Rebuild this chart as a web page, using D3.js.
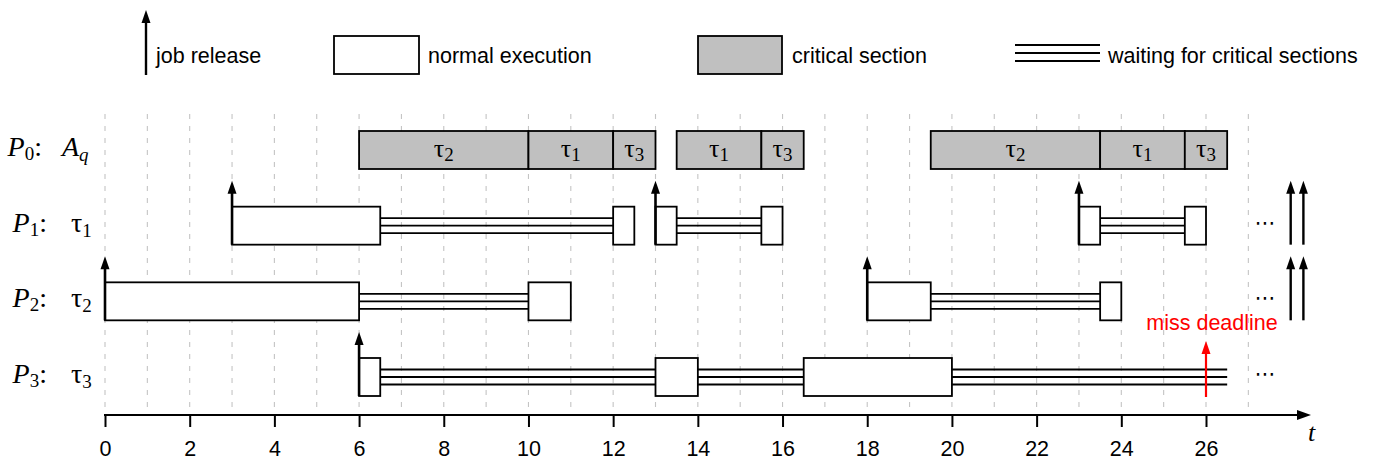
<!DOCTYPE html>
<html>
<head>
<meta charset="utf-8">
<script src="https://cdn.jsdelivr.net/npm/d3@7"></script>
<style>
  html, body { margin: 0; padding: 0; background: #fff; }
  .sans { font-family: "Liberation Sans", Arial, sans-serif; }
  .serif { font-family: "Liberation Serif", "Times New Roman", serif; }
</style>
</head>
<body>
<div id="chart"></div>
<script>
// time axis
var tickValues = d3.range(0, 27, 2);
var gridTimes = d3.range(0, 28);
var missDeadline = 26;

// rows: processor label + what runs on it
var procIds = ["0", "1", "2", "3"];
var rowMain = ["A", "τ", "τ", "τ"];
var rowSub = ["q", "1", "2", "3"];

// P0 critical sections (task, start, end)
var csTask = [2, 1, 3, 1, 3, 2, 1, 3];
var csStart = [6, 10, 12, 13.5, 15.5, 19.5, 23.5, 25.5];
var csEnd = [10, 12, 13, 15.5, 16.5, 23.5, 25.5, 26.5];

// normal execution (row, start, end)
var execRow = [1, 1, 1, 1, 1, 1, 2, 2, 2, 2, 3, 3, 3];
var execStart = [3, 12, 13, 15.5, 23, 25.5, 0, 10, 18, 23.5, 6, 13, 16.5];
var execEnd = [6.5, 12.5, 13.5, 16, 23.5, 26, 6, 11, 19.5, 24, 6.5, 14, 20];

// waiting for critical sections (row, start, end)
var waitRow = [1, 1, 1, 2, 2, 3, 3, 3];
var waitStart = [6.5, 13.5, 23.5, 6, 19.5, 6.5, 14, 20];
var waitEnd = [12, 15.5, 25.5, 10, 23.5, 13, 16.5, 26.5];

// job releases (row, time)
var relRow = [1, 1, 1, 2, 2, 3];
var relTime = [3, 13, 23, 0, 18, 6];
// releases after the shown window
var laterRow = [1, 1, 2, 2];
var laterTime = [28, 28.3, 28, 28.3];
var dotsTime = 27.4;

var W = 1376, H = 462;
var svg = d3.select("#chart").append("svg").attr("width", W).attr("height", H);

var x = d3.scaleLinear().domain([0, 26]).range([105, 1206]);
var y = d3.scaleLinear().domain([0, 3]).range([150, 377]);
var half = 19;
var axisY = 415;

function arrowHead(g, cx, tipY, color) {
  g.append("path")
    .attr("d", "M" + cx + "," + tipY + " L" + (cx - 4.5) + "," + (tipY + 13) + " L" + (cx + 4.5) + "," + (tipY + 13) + " Z")
    .attr("fill", color);
}
function upArrow(g, cx, y0, tipY, color, w) {
  g.append("line").attr("x1", cx).attr("x2", cx).attr("y1", y0).attr("y2", tipY + 8)
    .attr("stroke", color).attr("stroke-width", w);
  arrowHead(g, cx, tipY, color);
}

// grid
svg.append("g").selectAll("line").data(gridTimes).enter().append("line")
  .attr("x1", function(d) { return x(d); })
  .attr("x2", function(d) { return x(d); })
  .attr("y1", 114).attr("y2", 411)
  .attr("stroke", "#c4c4c4").attr("stroke-width", 1.1)
  .attr("stroke-dasharray", "5,7");

// axis
var axis = d3.axisBottom(x).tickValues(tickValues).tickSize(12).tickPadding(14).tickFormat(d3.format("d"));
var ag = svg.append("g").attr("transform", "translate(0," + axisY + ")").call(axis);
ag.select(".domain").remove();
ag.selectAll(".tick line").attr("stroke", "#000").attr("stroke-width", 2);
ag.selectAll(".tick text").attr("class", "sans").style("font-size", "21.5px").attr("fill", "#000");
svg.append("line").attr("x1", x(0) - 1).attr("x2", 1300).attr("y1", axisY).attr("y2", axisY)
  .attr("stroke", "#000").attr("stroke-width", 2);
svg.append("path").attr("d", "M1311," + axisY + " L1297," + (axisY - 5) + " L1297," + (axisY + 5) + " Z").attr("fill", "#000");
svg.append("text").attr("class", "serif").attr("x", 1308).attr("y", 441)
  .style("font-size", "26px").style("font-style", "italic").text("t");

// waiting lines
var waits = d3.range(waitRow.length).map(function(i) { return {row: waitRow[i], s: waitStart[i], e: waitEnd[i]}; });
var wg = svg.append("g");
[-7.5, 0, 7.5].forEach(function(off) {
  wg.selectAll(null).data(waits).enter().append("line")
    .attr("x1", function(d) { return x(d.s); })
    .attr("x2", function(d) { return x(d.e); })
    .attr("y1", function(d) { return y(d.row) + off; })
    .attr("y2", function(d) { return y(d.row) + off; })
    .attr("stroke", "#000").attr("stroke-width", 1.8);
});

// normal execution boxes
var execs = d3.range(execRow.length).map(function(i) { return {row: execRow[i], s: execStart[i], e: execEnd[i]}; });
svg.append("g").selectAll("rect").data(execs).enter().append("rect")
  .attr("x", function(d) { return x(d.s); })
  .attr("width", function(d) { return x(d.e) - x(d.s); })
  .attr("y", function(d) { return y(d.row) - half; })
  .attr("height", half * 2)
  .attr("fill", "#fff").attr("stroke", "#000").attr("stroke-width", 1.8);

// critical sections on P0
var cs = d3.range(csTask.length).map(function(i) { return {task: csTask[i], s: csStart[i], e: csEnd[i]}; });
var cg = svg.append("g");
cg.selectAll("rect").data(cs).enter().append("rect")
  .attr("x", function(d) { return x(d.s); })
  .attr("width", function(d) { return x(d.e) - x(d.s); })
  .attr("y", y(0) - half).attr("height", half * 2)
  .attr("fill", "#c0c0c0").attr("stroke", "#000").attr("stroke-width", 1.8);
var ct = cg.selectAll("text").data(cs).enter().append("text")
  .attr("class", "serif")
  .attr("x", function(d) { return (x(d.s) + x(d.e)) / 2; })
  .attr("y", y(0) + 7)
  .attr("text-anchor", "middle")
  .style("font-size", "26px");
ct.append("tspan").text("τ");
ct.append("tspan").attr("dy", 4).style("font-size", "19px").text(function(d) { return d.task; });

// releases
var rg = svg.append("g");
d3.range(relRow.length).forEach(function(i) {
  upArrow(rg, x(relTime[i]), y(relRow[i]) + half, y(relRow[i]) - 45, "#000", 2.6);
});
d3.range(laterRow.length).forEach(function(i) {
  upArrow(rg, x(laterTime[i]), y(laterRow[i]) + half, y(laterRow[i]) - 45, "#000", 2.4);
});

// dots
[1, 2, 3].forEach(function(r) {
  svg.append("text").attr("x", x(dotsTime)).attr("y", y(r) + 4)
    .attr("text-anchor", "middle")
    .style("font-family", "DejaVu Sans").style("font-size", "21px").text("⋯");
});

// deadline miss
upArrow(svg, x(missDeadline), y(3) + half + 1, 341, "#ff0000", 2.2);
svg.append("text").attr("class", "sans").attr("x", x(missDeadline) + 6).attr("y", 330)
  .attr("text-anchor", "middle").attr("fill", "#ff0000")
  .style("font-size", "21.5px").text("miss deadline");

// row labels
d3.range(procIds.length).forEach(function(i) {
  var t1 = svg.append("text").attr("class", "serif")
    .attr("x", i === 0 ? 42 : 47).attr("y", y(i) + 6)
    .attr("text-anchor", "end").style("font-size", "28px");
  t1.append("tspan").style("font-style", "italic").text("P");
  t1.append("tspan").attr("dy", 4).style("font-size", "19px").text(procIds[i]);
  t1.append("tspan").attr("dy", -4).text(":");
  var t2 = svg.append("text").attr("class", "serif")
    .attr("x", i === 0 ? 62 : 71).attr("y", y(i) + 6)
    .style("font-size", "28px");
  t2.append("tspan").style("font-style", i === 0 ? "italic" : "normal").text(rowMain[i]);
  t2.append("tspan").attr("dy", 5).style("font-size", "19px")
    .style("font-style", i === 0 ? "italic" : "normal").text(rowSub[i]);
});

// legend
var lg = svg.append("g");
upArrow(lg, 146, 75, 10, "#000", 2.4);
lg.append("text").attr("class", "sans").attr("x", 156).attr("y", 63).style("font-size", "21.5px").text("job release");
lg.append("rect").attr("x", 334).attr("y", 36).attr("width", 85).attr("height", 38)
  .attr("fill", "#fff").attr("stroke", "#000").attr("stroke-width", 1.8);
lg.append("text").attr("class", "sans").attr("x", 428).attr("y", 63).style("font-size", "21.5px").text("normal execution");
lg.append("rect").attr("x", 698).attr("y", 36).attr("width", 84).attr("height", 38)
  .attr("fill", "#c0c0c0").attr("stroke", "#000").attr("stroke-width", 1.8);
lg.append("text").attr("class", "sans").attr("x", 792).attr("y", 63).style("font-size", "21.5px").text("critical section");
[45, 53, 61].forEach(function(yy) {
  lg.append("line").attr("x1", 1015).attr("x2", 1100).attr("y1", yy).attr("y2", yy)
    .attr("stroke", "#000").attr("stroke-width", 1.8);
});
lg.append("text").attr("class", "sans").attr("x", 1108).attr("y", 63).style("font-size", "21.5px").text("waiting for critical sections");
</script>
</body>
</html>
